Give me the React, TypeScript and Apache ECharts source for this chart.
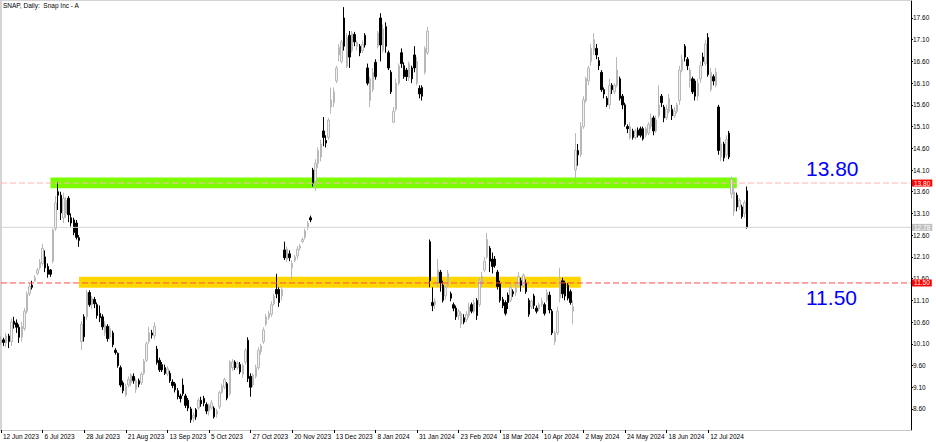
import React, { useEffect, useRef } from "react";
import * as echarts from "echarts";

// ---------- DATA ----------
const firstDay = "2023-06-12";
const marketHolidays = [
  "2023-06-19", "2023-07-04", "2023-09-04", "2023-11-23", "2023-12-25",
  "2024-01-01", "2024-01-15", "2024-02-19", "2024-03-29", "2024-05-27",
  "2024-06-19", "2024-07-04",
];

// daily bars: [open, close, low, high]
const ohlc: number[][] = [
  [10.14, 10.19, 10.07, 10.28], [10.19, 10.13, 10.05, 10.24], [10.12, 10.28, 10.02, 10.35], [10.28, 10.15, 10.0, 10.33],
  [10.15, 10.6, 10.05, 10.68], [10.62, 10.55, 10.45, 10.72], [10.58, 10.48, 10.35, 10.66], [10.48, 10.25, 10.12, 10.55],
  [10.25, 10.5, 10.15, 10.6], [10.45, 10.85, 10.4, 10.92], [10.85, 11.25, 10.8, 11.3], [11.25, 11.42, 11.2, 11.5],
  [11.45, 11.4, 11.35, 11.55], [11.55, 11.62, 11.52, 11.68], [11.72, 11.8, 11.68, 11.85], [11.85, 11.98, 11.8, 12.05],
  [11.95, 12.3, 11.9, 12.4], [12.1, 11.85, 11.75, 12.25], [11.88, 11.7, 11.62, 11.95], [11.8, 11.7, 11.64, 11.82],
  [12.0, 12.72, 11.95, 12.75], [12.75, 13.34, 12.7, 13.5], [13.6, 13.52, 13.18, 13.82], [13.52, 13.11, 12.95, 13.6],
  [13.0, 13.45, 12.88, 13.58], [13.1, 13.4, 13.0, 13.48], [13.45, 13.07, 12.9, 13.5], [13.0, 12.88, 12.8, 13.1],
  [12.95, 12.66, 12.6, 13.0], [12.88, 12.55, 12.5, 12.95], [12.54, 12.48, 12.33, 12.6],
  [10.15, 10.55, 9.96, 10.62], [10.72, 10.26, 10.15, 10.78], [10.72, 11.28, 10.65, 11.34], [11.28, 11.0, 10.95, 11.33],
  [11.0, 11.15, 10.9, 11.2], [11.12, 11.02, 10.92, 11.18], [11.0, 10.75, 10.68, 11.05], [10.8, 10.7, 10.6, 10.98],
  [10.72, 10.49, 10.42, 10.78], [10.35, 10.55, 10.28, 10.62], [10.5, 10.22, 10.15, 10.55], [10.25, 10.45, 10.2, 10.52],
  [10.35, 10.08, 10.02, 10.4], [9.95, 9.9, 9.85, 10.0], [9.88, 9.6, 9.55, 9.9], [9.55, 9.15, 9.1, 9.6],
  [9.2, 9.02, 8.96, 9.25], [8.92, 9.12, 8.88, 9.18], [9.15, 9.28, 9.1, 9.35], [9.2, 9.38, 9.12, 9.42],
  [9.35, 9.25, 9.18, 9.42], [9.05, 9.25, 8.97, 9.3], [9.25, 9.17, 9.1, 9.3], [9.2, 9.4, 9.15, 9.45],
  [9.42, 9.7, 9.38, 9.75], [9.72, 10.1, 9.68, 10.15], [10.15, 10.35, 10.1, 10.49], [10.35, 10.3, 10.22, 10.42],
  [10.28, 10.5, 10.2, 10.6], [9.98, 9.67, 9.62, 10.05], [9.72, 9.5, 9.45, 9.78], [9.62, 9.5, 9.45, 9.68],
  [9.55, 9.42, 9.38, 9.62], [9.4, 9.52, 9.35, 9.58], [9.42, 9.25, 9.2, 9.48], [9.22, 9.14, 9.08, 9.28],
  [9.18, 9.04, 8.98, 9.22], [9.02, 8.88, 8.82, 9.08], [8.9, 8.84, 8.75, 8.95], [9.15, 8.95, 8.9, 9.3],
  [8.9, 8.68, 8.62, 8.95], [8.8, 8.62, 8.55, 8.85], [8.6, 8.35, 8.28, 8.65], [8.4, 8.45, 8.3, 8.52],
  [8.58, 8.42, 8.35, 8.62], [8.62, 8.8, 8.58, 8.85], [8.8, 8.72, 8.65, 8.88], [8.84, 8.74, 8.66, 8.9],
  [8.7, 8.55, 8.48, 8.75], [8.55, 8.68, 8.45, 8.72], [8.62, 8.74, 8.58, 8.8], [8.62, 8.42, 8.38, 8.66],
  [8.48, 8.55, 8.4, 8.6], [8.65, 8.98, 8.6, 9.02], [8.98, 9.12, 8.95, 9.18], [9.1, 9.28, 9.05, 9.32],
  [9.18, 8.85, 8.8, 9.22], [8.95, 9.68, 8.9, 9.72], [9.55, 9.68, 9.48, 9.75], [9.68, 9.55, 9.5, 9.72],
  [9.55, 9.65, 9.5, 9.7], [9.62, 9.45, 9.4, 9.68], [9.4, 9.6, 9.32, 9.65], [9.68, 9.95, 9.62, 10.0],
  [10.18, 9.3, 9.22, 10.25], [9.35, 9.1, 8.88, 9.42], [9.15, 9.38, 9.1, 9.42], [9.35, 9.55, 9.3, 9.62],
  [9.55, 9.95, 9.5, 10.02], [9.92, 10.05, 9.85, 10.1], [10.15, 10.42, 10.1, 10.48], [10.55, 10.72, 10.5, 10.78],
  [10.7, 10.8, 10.65, 10.85], [10.78, 11.0, 10.72, 11.08], [11.02, 11.2, 10.98, 11.25], [11.35, 11.25, 11.15, 11.71],
  [11.35, 11.05, 10.95, 11.4], [11.2, 11.35, 11.1, 11.42], [12.26, 12.08, 12.03, 12.45], [12.05, 12.28, 11.98, 12.34],
  [12.17, 12.08, 12.0, 12.25], [11.85, 11.95, 11.57, 12.02], [12.02, 12.1, 11.98, 12.15], [12.12, 12.28, 12.05, 12.35],
  [12.3, 12.35, 12.25, 12.4], [12.45, 12.5, 12.42, 12.55], [12.55, 12.7, 12.5, 12.75], [12.78, 12.88, 12.72, 12.92],
  [13.0, 12.95, 12.9, 13.05], [14.1, 13.8, 13.72, 14.15], [13.85, 14.25, 13.62, 14.35], [14.25, 14.55, 14.15, 14.62],
  [14.4, 14.7, 14.3, 14.8], [15.0, 14.85, 14.65, 15.32], [14.78, 14.72, 14.62, 14.9], [14.85, 15.25, 14.8, 15.3],
  [15.55, 15.71, 15.4, 16.0], [15.65, 15.9, 15.55, 16.0], [16.15, 16.45, 16.1, 16.5], [16.75, 16.92, 16.6, 17.0],
  [16.6, 17.05, 16.55, 17.1], [17.6, 16.95, 16.85, 17.85], [16.48, 17.15, 16.45, 17.25], [17.2, 16.7, 16.45, 17.3],
  [16.85, 17.25, 16.8, 17.3], [17.22, 17.05, 16.95, 17.28], [16.95, 17.03, 16.85, 17.08], [16.95, 16.8, 16.72, 17.0],
  [16.85, 17.0, 16.8, 17.08], [17.2, 16.98, 16.92, 17.25], [16.45, 16.1, 16.05, 16.55], [15.7, 16.2, 15.55, 16.25],
  [15.95, 16.35, 15.9, 16.45], [16.58, 16.25, 16.18, 16.65], [16.95, 17.25, 16.9, 17.3], [17.6, 16.98, 16.6, 17.71],
  [16.85, 17.35, 16.8, 17.45], [17.4, 16.95, 16.8, 17.5], [16.8, 16.45, 16.4, 16.85], [16.35, 15.9, 15.85, 16.4],
  [15.2, 15.45, 15.18, 15.55], [15.5, 16.1, 15.45, 16.2], [16.1, 16.5, 16.05, 16.55], [16.8, 16.55, 16.45, 16.9],
  [16.5, 16.25, 16.2, 16.58], [16.4, 16.25, 16.15, 16.45], [16.22, 16.55, 16.15, 16.6], [16.45, 16.2, 16.1, 16.5],
  [16.75, 16.45, 16.35, 16.95], [16.1, 16.6, 16.05, 16.7], [15.98, 15.85, 15.75, 16.05], [16.0, 15.8, 15.7, 16.05],
  [16.35, 16.9, 16.3, 16.95], [16.8, 17.3, 16.75, 17.4],
  [12.45, 11.55, 11.4, 12.5], [11.05, 10.98, 10.85, 11.4], [11.0, 11.08, 10.9, 11.15], [11.5, 11.8, 11.4, 12.05],
  [11.75, 11.5, 11.3, 11.8], [11.45, 11.1, 11.05, 11.55], [11.2, 11.4, 11.12, 11.45], [11.45, 11.72, 11.4, 11.8],
  [11.25, 11.15, 11.08, 11.3], [11.0, 10.92, 10.85, 11.05], [10.92, 10.72, 10.65, 10.98], [10.75, 10.85, 10.65, 10.9],
  [10.55, 10.8, 10.46, 10.85], [10.7, 10.6, 10.55, 10.78], [10.65, 10.78, 10.6, 10.85], [10.75, 10.95, 10.7, 11.05],
  [11.0, 10.85, 10.8, 11.05], [10.85, 11.05, 10.8, 11.12], [11.1, 10.75, 10.65, 11.15], [11.0, 11.55, 10.95, 11.62],
  [11.5, 11.65, 11.4, 11.75], [11.8, 12.0, 11.75, 12.1], [12.1, 12.5, 12.05, 12.65], [12.3, 12.0, 11.75, 12.35],
  [12.05, 11.88, 11.72, 12.2], [12.05, 11.9, 11.85, 12.12], [11.75, 11.42, 11.35, 11.8], [11.48, 11.1, 11.05, 11.55],
  [11.12, 10.98, 10.92, 11.18], [11.05, 10.8, 10.75, 11.1], [11.22, 11.05, 10.9, 11.28], [11.1, 11.4, 11.05, 11.48],
  [11.3, 11.25, 11.18, 11.35], [11.28, 11.4, 11.2, 11.48], [11.45, 11.65, 11.4, 11.75], [11.55, 11.45, 11.3, 11.62],
  [11.45, 11.68, 11.4, 11.72], [11.5, 11.3, 11.25, 11.58], [11.1, 10.78, 10.72, 11.15], [10.95, 11.08, 10.9, 11.12],
  [11.2, 10.98, 10.9, 11.25], [10.92, 10.85, 10.8, 10.98], [10.9, 11.0, 10.85, 11.05], [11.0, 11.08, 10.95, 11.15],
  [11.0, 10.8, 10.75, 11.05], [11.1, 11.28, 11.05, 11.35], [11.22, 10.88, 10.8, 11.3], [10.85, 10.35, 10.3, 10.9],
  [10.15, 10.35, 10.07, 10.4], [10.35, 10.85, 10.3, 10.95], [11.15, 11.55, 11.05, 11.85], [11.55, 11.25, 11.15, 11.62],
  [11.5, 11.2, 11.1, 11.55], [11.45, 11.15, 11.1, 11.5], [11.3, 11.05, 11.0, 11.35], [10.85, 10.95, 10.55, 11.1],
  [14.1, 14.55, 13.9, 14.95], [14.55, 14.45, 14.2, 14.7], [14.45, 15.1, 14.4, 15.2], [15.1, 15.72, 15.05, 15.8],
  [15.7, 16.2, 15.65, 16.25], [16.15, 16.45, 16.05, 16.5], [16.6, 16.9, 16.5, 17.0], [16.85, 17.1, 16.75, 17.25],
  [16.9, 16.75, 16.65, 17.0], [16.62, 16.5, 16.4, 16.7], [16.35, 15.95, 15.9, 16.4], [15.95, 15.85, 15.75, 16.0],
  [15.75, 15.6, 15.55, 15.8], [15.6, 16.05, 15.5, 16.2], [16.05, 15.95, 15.85, 16.1], [15.9, 16.05, 15.85, 16.1],
  [16.05, 16.4, 16.0, 16.7], [16.2, 15.75, 15.7, 16.25], [15.8, 15.6, 15.5, 15.85], [15.6, 15.15, 15.1, 15.65],
  [15.1, 15.05, 14.95, 15.15], [14.85, 15.1, 14.8, 15.2], [15.0, 14.85, 14.8, 15.05], [14.85, 15.0, 14.8, 15.05],
  [15.02, 14.9, 14.85, 15.08], [15.05, 14.9, 14.85, 15.1], [15.05, 14.82, 14.78, 15.1], [14.9, 15.05, 14.85, 15.1],
  [14.95, 15.15, 14.9, 15.2], [15.1, 15.3, 15.05, 15.4], [15.3, 15.0, 14.9, 15.35], [15.0, 15.25, 14.95, 15.35],
  [15.35, 15.6, 15.3, 16.05], [15.8, 15.65, 15.55, 15.85], [15.55, 15.3, 15.2, 15.6], [15.3, 15.5, 15.25, 15.6],
  [15.45, 15.75, 15.4, 15.85], [15.5, 15.35, 15.25, 15.6], [15.35, 15.45, 15.3, 15.55], [15.45, 15.6, 15.4, 15.65],
  [15.7, 16.4, 15.6, 16.5], [16.4, 16.65, 16.35, 16.75], [16.95, 16.7, 16.6, 17.0], [16.65, 16.5, 16.4, 16.7],
  [16.15, 16.4, 16.0, 16.45], [16.2, 15.9, 15.85, 16.25], [16.15, 15.8, 15.7, 16.2], [15.8, 16.1, 15.7, 16.2],
  [16.2, 16.5, 16.1, 16.6], [16.7, 16.6, 16.5, 16.8], [16.55, 17.0, 16.5, 17.1], [17.15, 16.3, 16.25, 17.25],
  [15.95, 16.35, 15.9, 16.45], [16.25, 16.15, 16.05, 16.3], [16.05, 16.35, 16.0, 16.45], [15.55, 14.55, 14.45, 15.6],
  [14.4, 14.7, 14.3, 14.85], [14.7, 14.38, 14.3, 14.75], [14.45, 14.8, 14.4, 14.9], [14.95, 14.4, 14.35, 15.0],
  [13.55, 13.88, 13.45, 13.95], [13.15, 13.6, 13.05, 13.72], [13.52, 13.25, 13.15, 13.58], [13.25, 13.4, 13.18, 13.45],
  [13.25, 13.03, 12.98, 13.3], [13.1, 13.35, 13.0, 13.4], [13.62, 12.78, 12.75, 13.72],
];

const dateTicks = [
  "12 Jun 2023", "6 Jul 2023", "28 Jul 2023", "21 Aug 2023", "13 Sep 2023", "5 Oct 2023",
  "27 Oct 2023", "20 Nov 2023", "13 Dec 2023", "8 Jan 2024", "31 Jan 2024", "23 Feb 2024",
  "18 Mar 2024", "10 Apr 2024", "2 May 2024", "24 May 2024", "18 Jun 2024", "12 Jul 2024",
];
const priceTicks = [
  8.6, 9.1, 9.6, 10.1, 10.6, 11.1, 11.6, 12.1, 12.6, 13.1, 13.6, 14.1, 14.6, 15.1, 15.6, 16.1, 16.6, 17.1, 17.6,
];
const resistanceLevel = 13.8;
const supportLevel = 11.5;
const lastPrice = 12.78;
// zones: [from date, to date, low price, high price]
const resistanceZone: [string, string, number, number] = ["11 Jul 2023", "29 Jul 2024", 13.68, 13.93];
const supportZone: [string, string, number, number] = ["26 Jul 2023", "1 May 2024", 11.39, 11.645];
const chartTitle = "SNAP, Daily:  Snap Inc - A";

// ---------- helpers ----------
const MONTHS = ["Jan", "Feb", "Mar", "Apr", "May", "Jun", "Jul", "Aug", "Sep", "Oct", "Nov", "Dec"];
function tradingDays(start: string, count: number): string[] {
  const [y, m, d] = start.split("-").map(Number);
  const t = new Date(Date.UTC(y, m - 1, d));
  const out: string[] = [];
  while (out.length < count) {
    const iso = t.toISOString().slice(0, 10);
    const wd = t.getUTCDay();
    if (wd !== 0 && wd !== 6 && !marketHolidays.includes(iso)) {
      out.push(`${t.getUTCDate()} ${MONTHS[t.getUTCMonth()]} ${t.getUTCFullYear()}`);
    }
    t.setUTCDate(t.getUTCDate() + 1);
  }
  return out;
}
const dates = tradingDays(firstDay, ohlc.length);

const FONT = "'Liberation Sans', Arial, sans-serif";
const Y_MIN = 8.115;
const Y_MAX = 17.991;
const X_LAST = 350; // last slot of the axis (MT4 chart shift leaves empty space on the right)

function levelSeries(name: string, price: number, lineColor: string, dashed: boolean, boxColor: string) {
  return {
    name,
    type: "line",
    data: [[0, price], [X_LAST, price]],
    symbol: "none",
    silent: true,
    clip: false,
    z: 3,
    lineStyle: { color: lineColor, type: dashed ? [6, 3] : "solid", width: 1, opacity: 1 },
    itemStyle: { color: lineColor },
    endLabel: {
      show: true,
      distance: 1,
      formatter: () => price.toFixed(2),
      backgroundColor: boxColor,
      color: "#ffffff",
      fontFamily: FONT,
      fontSize: 6.5,
      lineHeight: 7,
      padding: [0, 2, 0, 2],
    },
  };
}

export default function App() {
  const ref = useRef<HTMLDivElement>(null);
  useEffect(() => {
    if (!ref.current) return;
    const chart = echarts.init(ref.current, null, { renderer: "svg" });
    const showTick = (_i: number, v: string) => dateTicks.includes(v);
    chart.setOption({
      animation: false,
      backgroundColor: "#ffffff",
      textStyle: { fontFamily: FONT },
      grid: { left: -1, right: 25, top: 1, bottom: 12, containLabel: false },
      xAxis: {
        type: "category",
        data: dates,
        boundaryGap: false,
        max: X_LAST,
        axisLine: { show: true, lineStyle: { color: "#c8c8c8", width: 1 } },
        axisTick: { show: true, interval: showTick, length: 3, lineStyle: { color: "#000" } },
        axisLabel: {
          show: true,
          interval: showTick,
          align: "left",
          margin: 3,
          padding: [0, 0, 0, 2],
          fontSize: 6.5,
          color: "#000",
          fontFamily: FONT,
        },
        splitLine: { show: false },
      },
      yAxis: {
        type: "value",
        position: "right",
        min: Y_MIN,
        max: Y_MAX,
        scale: true,
        axisLine: { show: true, onZero: false, lineStyle: { color: "#000", width: 1 } },
        axisTick: { show: true, customValues: priceTicks, length: 2, lineStyle: { color: "#000" } },
        axisLabel: {
          show: true,
          customValues: priceTicks,
          formatter: (v: number) => v.toFixed(2),
          margin: 2,
          fontSize: 6.5,
          color: "#000",
          fontFamily: FONT,
        },
        splitLine: { show: false },
      },
      graphic: [
        { type: "rect", left: 0, top: 0, shape: { width: 2, height: 430 }, style: { fill: "#d4d4d4" }, silent: true },
        { type: "rect", left: 0, top: 0, shape: { width: 911, height: 1 }, style: { fill: "#d4d4d4" }, silent: true },
        {
          type: "text", left: 3, top: 2,
          style: { text: chartTitle, fill: "#000", font: `6.5px ${FONT}` },
        },
        {
          type: "text", left: 806, top: 158,
          style: { text: resistanceLevel.toFixed(2), fill: "#0000ff", font: `21px ${FONT}` },
        },
        {
          type: "text", left: 806, top: 287,
          style: { text: supportLevel.toFixed(2), fill: "#0000ff", font: `21px ${FONT}` },
        },
      ],
      series: [
        {
          type: "candlestick",
          data: ohlc,
          barWidth: 2,
          clip: true,
          z: 2,
          itemStyle: {
            color: "#f2f2f2",
            color0: "#000000",
            borderColor: "#b8b8b8",
            borderColor0: "#000000",
            borderWidth: 1,
          },
          markArea: {
            silent: true,
            data: [
              [
                { xAxis: resistanceZone[0], yAxis: resistanceZone[3], itemStyle: { color: "#7cfc00", opacity: 1 } },
                { xAxis: resistanceZone[1], yAxis: resistanceZone[2] },
              ],
              [
                { xAxis: supportZone[0], yAxis: supportZone[3], itemStyle: { color: "#ffd700", opacity: 1 } },
                { xAxis: supportZone[1], yAxis: supportZone[2] },
              ],
            ],
          },
        },
        levelSeries("last", lastPrice, "#d4d4d4", false, "#c0c0c0"),
        levelSeries("resistance", resistanceLevel, "#ffb4b4", true, "#ff0000"),
        levelSeries("support", supportLevel, "#ff4a4a", true, "#ff0000"),
      ],
    });
    return () => chart.dispose();
  }, []);
  return <div ref={ref} style={{ position: "absolute", left: 0, top: 0, width: 936, height: 442 }} />;
}
